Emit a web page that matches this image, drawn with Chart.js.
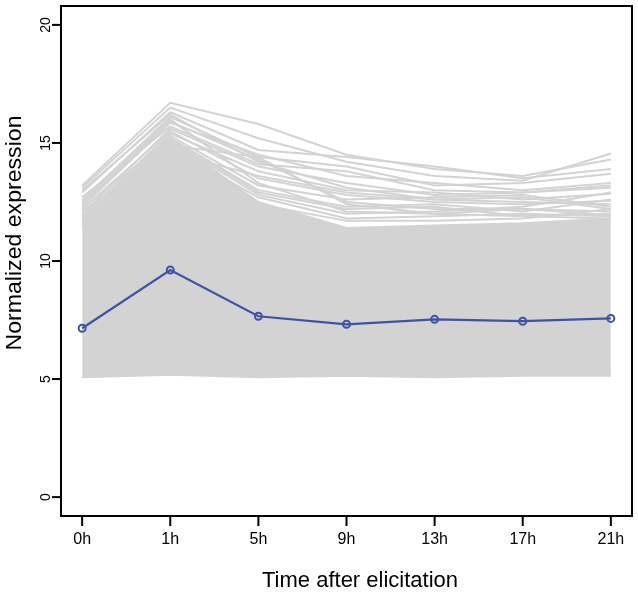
<!DOCTYPE html>
<html>
<head>
<meta charset="utf-8">
<script src="https://cdn.jsdelivr.net/npm/chart.js@4.4.1/dist/chart.umd.min.js"></script>
<style>
  body { margin: 0; background: #fff; }
  #wrap { width: 638px; height: 595px; position: relative; }
</style>
</head>
<body>
<div id="wrap"><canvas id="exprChart"></canvas></div>
<script>
// time points after elicitation
const timeLabels = ['0h', '1h', '5h', '9h', '13h', '17h', '21h'];
const yTicks = [0, 5, 10, 15, 20];

// mean profile of the cluster (blue)
const meanExpr = [7.15, 9.62, 7.66, 7.32, 7.53, 7.45, 7.57];

// dense grey mass of gene profiles: lower and upper edge
const bandLow = [5.08, 5.18, 5.08, 5.14, 5.08, 5.14, 5.14];
const bandHigh = [11.6, 15.2, 12.5, 11.4, 11.5, 11.6, 11.8];

// individual profiles that stand out above the mass
const geneLines = [
    [13.2, 16.7, 15.8, 14.5, 13.9, 13.6, 14.3],
    [13.1, 16.5, 15.2, 14.2, 13.6, 13.4, 14.55],
    [12.9, 16.3, 14.7, 14.4, 14.0, 13.5, 13.9],
    [12.6, 16.1, 14.4, 14.0, 13.2, 13.3, 13.7],
    [12.3, 15.85, 14.5, 13.6, 13.3, 13.0, 13.3],
    [12.0, 15.6, 14.0, 13.3, 12.8, 12.9, 13.1],
    [11.9, 15.4, 13.8, 13.0, 12.9, 12.6, 12.85],
    [12.2, 15.5, 13.5, 12.8, 12.5, 12.4, 12.55],
    [11.8, 15.3, 13.2, 12.6, 12.7, 12.8, 12.3],
    [12.4, 15.9, 14.3, 12.5, 12.2, 12.2, 12.1],
    [11.7, 15.2, 13.0, 12.3, 12.4, 12.1, 12.6],
    [12.5, 16.0, 13.3, 12.1, 12.0, 11.9, 12.0],
    [11.6, 15.1, 12.8, 12.0, 12.1, 12.3, 12.9],
    [12.1, 14.8, 12.7, 11.8, 11.9, 12.0, 11.9],
    [11.9, 15.0, 12.4, 11.7, 11.7, 11.8, 12.2],
    [12.7, 15.7, 14.1, 13.8, 13.0, 12.9, 13.2],
    [11.8, 14.6, 13.6, 12.9, 12.6, 12.5, 12.4],
    [12.2, 15.2, 12.9, 12.2, 12.3, 11.9, 11.8],
    [13.0, 16.2, 14.2, 13.1, 12.6, 12.7, 12.2],
    [11.5, 14.9, 14.4, 12.4, 12.0, 12.2, 11.95]
];

const grey = '#d3d3d3';
const blue = '#3f53a3';

function toPoints(arr) {
    return arr.map((v, i) => ({ x: i, y: v }));
}

const datasets = [
    {
        data: toPoints(meanExpr),
        borderColor: blue,
        borderWidth: 2.2,
        pointRadius: 3.5,
        pointBorderWidth: 2,
        pointBorderColor: blue,
        pointBackgroundColor: 'rgba(0,0,0,0)',
        fill: false
    },
    {
        data: toPoints(bandLow),
        borderColor: grey,
        borderWidth: 2,
        pointRadius: 0,
        fill: false
    },
    {
        data: toPoints(bandHigh),
        borderColor: grey,
        borderWidth: 2,
        pointRadius: 0,
        backgroundColor: grey,
        fill: '-1'
    }
];
geneLines.forEach(g => {
    datasets.push({
        data: toPoints(g),
        borderColor: grey,
        borderWidth: 2,
        pointRadius: 0,
        fill: false
    });
});

// R style box, ticks and labels
const rAxes = {
    id: 'rAxes',
    afterDraw(chart) {
        const ctx = chart.ctx;
        const a = chart.chartArea;
        const xs = chart.scales.x;
        const ys = chart.scales.y;
        ctx.save();
        ctx.strokeStyle = '#000';
        ctx.fillStyle = '#000';
        ctx.lineWidth = 2;
        ctx.strokeRect(a.left, a.top, a.right - a.left, a.bottom - a.top);

        ctx.font = '16px "Liberation Sans", Arial, sans-serif';
        ctx.textAlign = 'center';
        ctx.textBaseline = 'middle';
        timeLabels.forEach((t, i) => {
            const px = xs.getPixelForValue(i);
            ctx.beginPath();
            ctx.moveTo(px, a.bottom);
            ctx.lineTo(px, a.bottom + 10);
            ctx.stroke();
            ctx.fillText(t, px, a.bottom + 24);
        });
        ctx.font = '14px "Liberation Sans", Arial, sans-serif';
        ctx.textBaseline = 'alphabetic';
        yTicks.forEach(v => {
            const py = ys.getPixelForValue(v);
            ctx.beginPath();
            ctx.moveTo(a.left, py);
            ctx.lineTo(a.left - 9, py);
            ctx.stroke();
            ctx.save();
            ctx.translate(a.left - 11, py);
            ctx.rotate(-Math.PI / 2);
            ctx.fillText(String(v), 0, 0);
            ctx.restore();
        });

        ctx.font = '22px "Liberation Sans", Arial, sans-serif';
        ctx.fillText('Time after elicitation', 360, 587);
        ctx.save();
        ctx.translate(21, 233);
        ctx.rotate(-Math.PI / 2);
        ctx.scale(1.05, 1);
        ctx.fillText('Normalized expression', 0, 0);
        ctx.restore();
        ctx.restore();
    }
};

new Chart(document.getElementById('exprChart'), {
    type: 'line',
    data: { datasets: datasets },
    options: {
        responsive: true,
        maintainAspectRatio: false,
        animation: false,
        layout: { padding: { left: 61, right: 2, top: 1, bottom: 79 } },
        elements: { line: { tension: 0 } },
        plugins: {
            legend: { display: false },
            tooltip: { enabled: false }
        },
        scales: {
            x: { type: 'linear', min: -0.24, max: 6.24, display: false },
            y: { type: 'linear', min: -0.8, max: 20.8, display: false }
        }
    },
    plugins: [rAxes]
});
</script>
</body>
</html>
